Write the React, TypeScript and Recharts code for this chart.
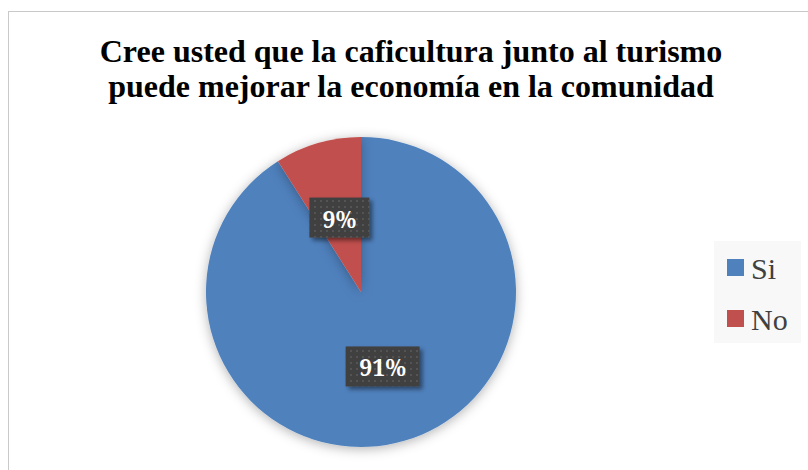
import React from 'react';
import { PieChart, Pie, Cell, Legend } from 'recharts';

const categories = ['Si', 'No'];
const values = [91, 9];
const colors = ['#4f81bd', '#c0504d'];
const titleLines = [
  'Cree usted que la caficultura junto al turismo',
  'puede mejorar la economía en la comunidad',
];

const data = categories.map((name, i) => ({ name, value: values[i] }));

const RAD = Math.PI / 180;
const SERIF = 'Liberation Serif';

const renderLabel = (props: any) => {
  const { cx, cy, midAngle, outerRadius, percent } = props;
  const r = outerRadius * 0.5;
  const x = cx + r * Math.cos(-midAngle * RAD);
  const y = cy + r * Math.sin(-midAngle * RAD);
  const text = `${Math.round(percent * 100)}%`;
  const w = 32 + 14 * text.length;
  const h = 40;
  return (
    <g>
      <rect x={x - w / 2} y={y - h / 2} width={w} height={h} fill="#404040" filter="url(#lblShadow)" />
      <rect x={x - w / 2} y={y - h / 2} width={w} height={h} fill="url(#dots)" />
      <text
        x={x}
        y={y + 10}
        textAnchor="middle"
        fill="#ffffff"
        fontFamily="Noto Serif"
        fontWeight="bold"
        fontSize={23}
      >
        {text}
      </text>
    </g>
  );
};

const renderLegend = (props: any) => {
  const payload = [...(props.payload || [])].sort(
    (a: any, b: any) => categories.indexOf(a.value) - categories.indexOf(b.value)
  );
  return (
    <div style={{ width: 87, height: 102, background: '#f8f8f8', position: 'relative' }}>
      {payload.map((entry: any, i: number) => (
        <div key={i} style={{ position: 'absolute', left: 13, top: 18 + i * 51, height: 17, display: 'flex', alignItems: 'center' }}>
          <div style={{ width: 17, height: 17, background: entry.color }} />
          <span
            style={{
              marginLeft: 7,
              fontFamily: SERIF,
              fontSize: 30,
              color: '#404040',
              lineHeight: '17px',
              position: 'relative',
              top: 1,
            }}
          >
            {entry.value}
          </span>
        </div>
      ))}
    </div>
  );
};

export default function App() {
  return (
    <div style={{ position: 'fixed', left: 0, top: 0, width: 808, height: 470, overflow: 'hidden', background: '#fff' }}>
      <svg width={0} height={0} style={{ position: 'absolute' }}>
        <defs>
          <filter id="pieShadow" x="-20%" y="-20%" width="140%" height="140%">
            <feDropShadow dx="0" dy="2" stdDeviation="6" floodColor="#000" floodOpacity="0.3" />
          </filter>
          <filter id="lblShadow" x="-30%" y="-30%" width="160%" height="160%">
            <feDropShadow dx="3" dy="3" stdDeviation="2" floodColor="#000" floodOpacity="0.45" />
          </filter>
          <pattern id="dots" width="6" height="6" patternUnits="userSpaceOnUse">
            <circle cx="3" cy="3" r="1" fill="#5a5a5a" />
          </pattern>
        </defs>
      </svg>
      <div
        style={{
          position: 'absolute',
          left: 8,
          top: 11,
          width: 900,
          height: 600,
          border: '1px solid #c9c9c9',
          boxSizing: 'border-box',
        }}
      />
      {titleLines.map((t, i) => (
        <div
          key={i}
          style={{
            position: 'absolute',
            left: 0,
            width: 822,
            top: 34 + i * 35,
            textAlign: 'center',
            fontFamily: SERIF,
            fontWeight: 'bold',
            fontSize: 32,
            lineHeight: '35px',
            color: '#000',
            whiteSpace: 'nowrap',
          }}
        >
          {t}
        </div>
      ))}
      <div style={{ position: 'absolute', left: 0, top: 0 }}>
        <PieChart width={808} height={470} margin={{ top: 0, right: 0, bottom: 0, left: 0 }}>
          <Pie
            data={data}
            dataKey="value"
            nameKey="name"
            cx={361}
            cy={292}
            outerRadius={155}
            startAngle={90}
            endAngle={-270}
            stroke="none"
            labelLine={false}
            label={renderLabel}
            isAnimationActive={false}
          >
            {data.map((d, i) => (
              <Cell key={d.name} fill={colors[i]} style={{ filter: 'url(#pieShadow)' }} />
            ))}
          </Pie>
          <Legend
            content={renderLegend}
            wrapperStyle={{ position: 'absolute', left: 714, top: 241, width: 87, height: 102 }}
          />
        </PieChart>
      </div>
    </div>
  );
}
